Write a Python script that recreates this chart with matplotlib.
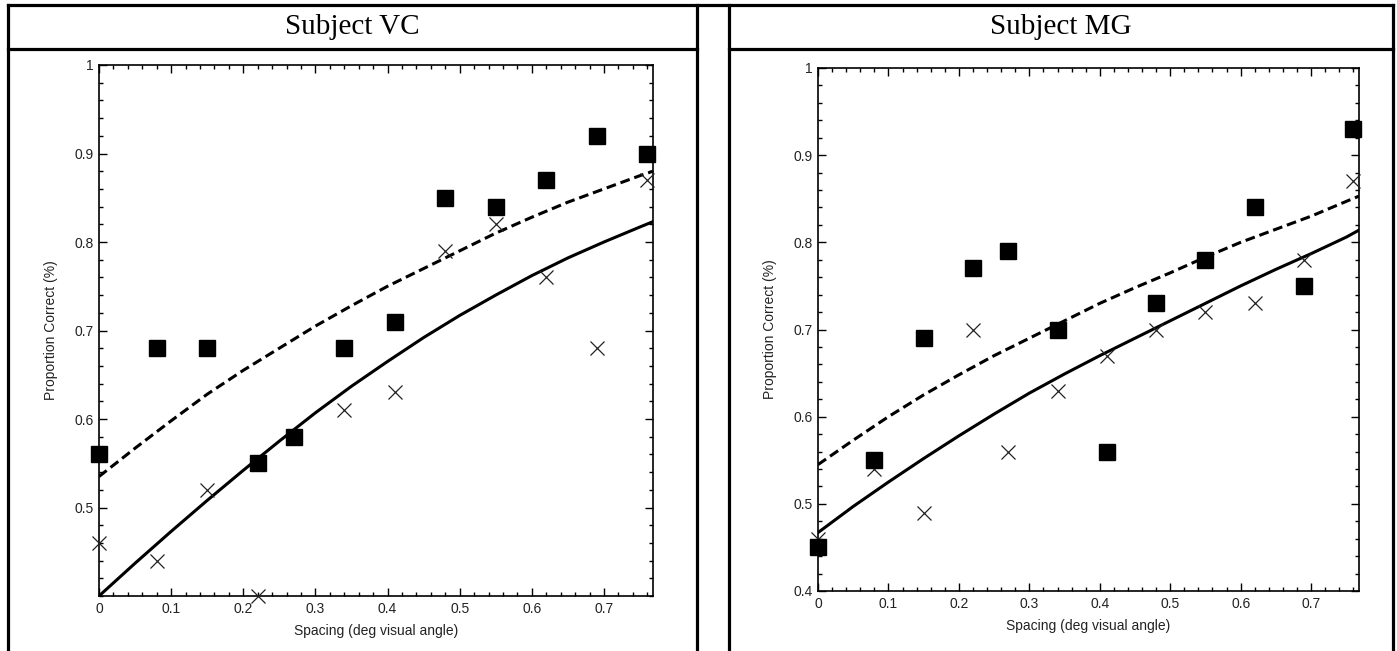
import matplotlib
matplotlib.use("Agg")
import matplotlib.pyplot as plt
from matplotlib.lines import Line2D
from matplotlib.ticker import MultipleLocator, FixedLocator

# ---------------- data ----------------
spacing = [0, 0.08, 0.15, 0.22, 0.27, 0.34, 0.41, 0.48, 0.55, 0.62, 0.69, 0.76]

vc_square = [0.56, 0.68, 0.68, 0.55, 0.58, 0.68, 0.71, 0.85, 0.84, 0.87, 0.92, 0.90]
vc_cross = [0.46, 0.44, 0.52, 0.40, 0.58, 0.61, 0.63, 0.79, 0.82, 0.76, 0.68, 0.87]

mg_square = [0.45, 0.55, 0.69, 0.77, 0.79, 0.70, 0.56, 0.73, 0.78, 0.84, 0.75, 0.93]
mg_cross = [0.46, 0.54, 0.49, 0.70, 0.56, 0.63, 0.67, 0.70, 0.72, 0.73, 0.78, 0.87]

curve_x = [0, 0.05, 0.10, 0.15, 0.20, 0.25, 0.30, 0.35, 0.40, 0.45, 0.50,
           0.55, 0.60, 0.65, 0.70, 0.75, 0.768]
vc_dashed = [0.535, 0.567, 0.598, 0.628, 0.655, 0.680, 0.705, 0.728, 0.750,
             0.770, 0.790, 0.810, 0.828, 0.845, 0.860, 0.875, 0.880]
vc_solid = [0.400, 0.437, 0.473, 0.508, 0.542, 0.575, 0.607, 0.637, 0.665,
            0.692, 0.717, 0.740, 0.762, 0.782, 0.800, 0.817, 0.823]
mg_dashed = [0.545, 0.573, 0.600, 0.625, 0.648, 0.670, 0.690, 0.710, 0.730,
             0.748, 0.765, 0.783, 0.800, 0.815, 0.830, 0.847, 0.853]
mg_solid = [0.467, 0.497, 0.525, 0.552, 0.578, 0.603, 0.627, 0.649, 0.670,
            0.690, 0.710, 0.730, 0.750, 0.769, 0.787, 0.806, 0.814]

titles = ["Subject VC", "Subject MG"]
xticks = [0, 0.1, 0.2, 0.3, 0.4, 0.5, 0.6, 0.7]
xticklabels = ["0", "0.1", "0.2", "0.3", "0.4", "0.5", "0.6", "0.7"]
vc_yticks = [0.5, 0.6, 0.7, 0.8, 0.9, 1.0]
vc_yticklabels = ["0.5", "0.6", "0.7", "0.8", "0.9", "1"]
mg_yticks = [0.4, 0.5, 0.6, 0.7, 0.8, 0.9, 1.0]
mg_yticklabels = ["0.4", "0.5", "0.6", "0.7", "0.8", "0.9", "1"]
xlabel = "Spacing (deg visual angle)"
ylabel = "Proportion Correct (%)"

# ---------------- figure ----------------
W, H = 1397, 651
fig = plt.figure(figsize=(W / 100, H / 100), dpi=100)
fig.patch.set_facecolor("white")

tick_font = ["Liberation Sans Narrow", "Liberation Sans", "DejaVu Sans"]


def fx(px):
    return px / W


def fy(py):
    return 1 - py / H


# table frame lines
lw_tab = 2.3
def hline(x0, x1, y):
    fig.add_artist(Line2D([fx(x0), fx(x1)], [fy(y), fy(y)], color="black",
                          lw=lw_tab, transform=fig.transFigure,
                          solid_capstyle="projecting"))


def vline(x, y0, y1):
    fig.add_artist(Line2D([fx(x), fx(x)], [fy(y0), fy(y1)], color="black",
                          lw=lw_tab, transform=fig.transFigure,
                          solid_capstyle="projecting"))


hline(8, 1393, 5)
hline(8, 697, 49)
hline(729, 1393, 49)
vline(8, 5, 651)
vline(697, 5, 651)
vline(729, 5, 651)
vline(1393, 5, 651)

fig.text(fx(352), fy(27), titles[0], ha="center", va="center",
         family="Liberation Serif", fontsize=21)
fig.text(fx(1061), fy(27), titles[1], ha="center", va="center",
         family="Liberation Serif", fontsize=21)

panels = [
    dict(rect=(99, 65, 653, 596), sq=vc_square, cr=vc_cross, da=vc_dashed,
         so=vc_solid, yt=vc_yticks, ytl=vc_yticklabels),
    dict(rect=(818, 68, 1359, 591), sq=mg_square, cr=mg_cross, da=mg_dashed,
         so=mg_solid, yt=mg_yticks, ytl=mg_yticklabels),
]

for p in panels:
    x0, y0, x1, y1 = p["rect"]
    ax = fig.add_axes([fx(x0), fy(y1), (x1 - x0) / W, (y1 - y0) / H])
    ax.plot(curve_x, p["da"], color="black", lw=2.2, dashes=(3.2, 1.6),
            zorder=2)
    ax.plot(curve_x, p["so"], color="black", lw=2.2, zorder=2)
    ax.plot(spacing, p["cr"], linestyle="none", marker="x", markersize=10,
            markeredgewidth=0.9, color="#222222", zorder=3, clip_on=False)
    ax.plot(spacing, p["sq"], linestyle="none", marker="s", markersize=11.5,
            color="black", zorder=4, clip_on=False)
    ax.set_xlim(0, 0.768)
    ax.set_ylim(0.4, 1.0)
    ax.xaxis.set_major_locator(FixedLocator(xticks))
    ax.set_xticklabels(xticklabels)
    ax.yaxis.set_major_locator(FixedLocator(p["yt"]))
    ax.set_yticklabels(p["ytl"])
    ax.xaxis.set_minor_locator(MultipleLocator(0.02))
    ax.yaxis.set_minor_locator(MultipleLocator(0.02))
    ax.tick_params(which="both", direction="in", top=True, right=True,
                   width=1.0, color="black")
    ax.tick_params(which="major", length=6, pad=4, labelsize=10,
                   labelcolor="#222222")
    ax.tick_params(which="minor", length=3)
    for lab in ax.get_xticklabels() + ax.get_yticklabels():
        lab.set_family(tick_font)
    for s in ax.spines.values():
        s.set_linewidth(1.2)
    ax.set_xlabel(xlabel, family=tick_font, fontsize=10, color="#222222",
                  labelpad=6)
    ax.set_ylabel(ylabel, family=tick_font, fontsize=10, color="#222222",
                  labelpad=12)

fig.savefig("out.png", dpi=100, facecolor="white")
